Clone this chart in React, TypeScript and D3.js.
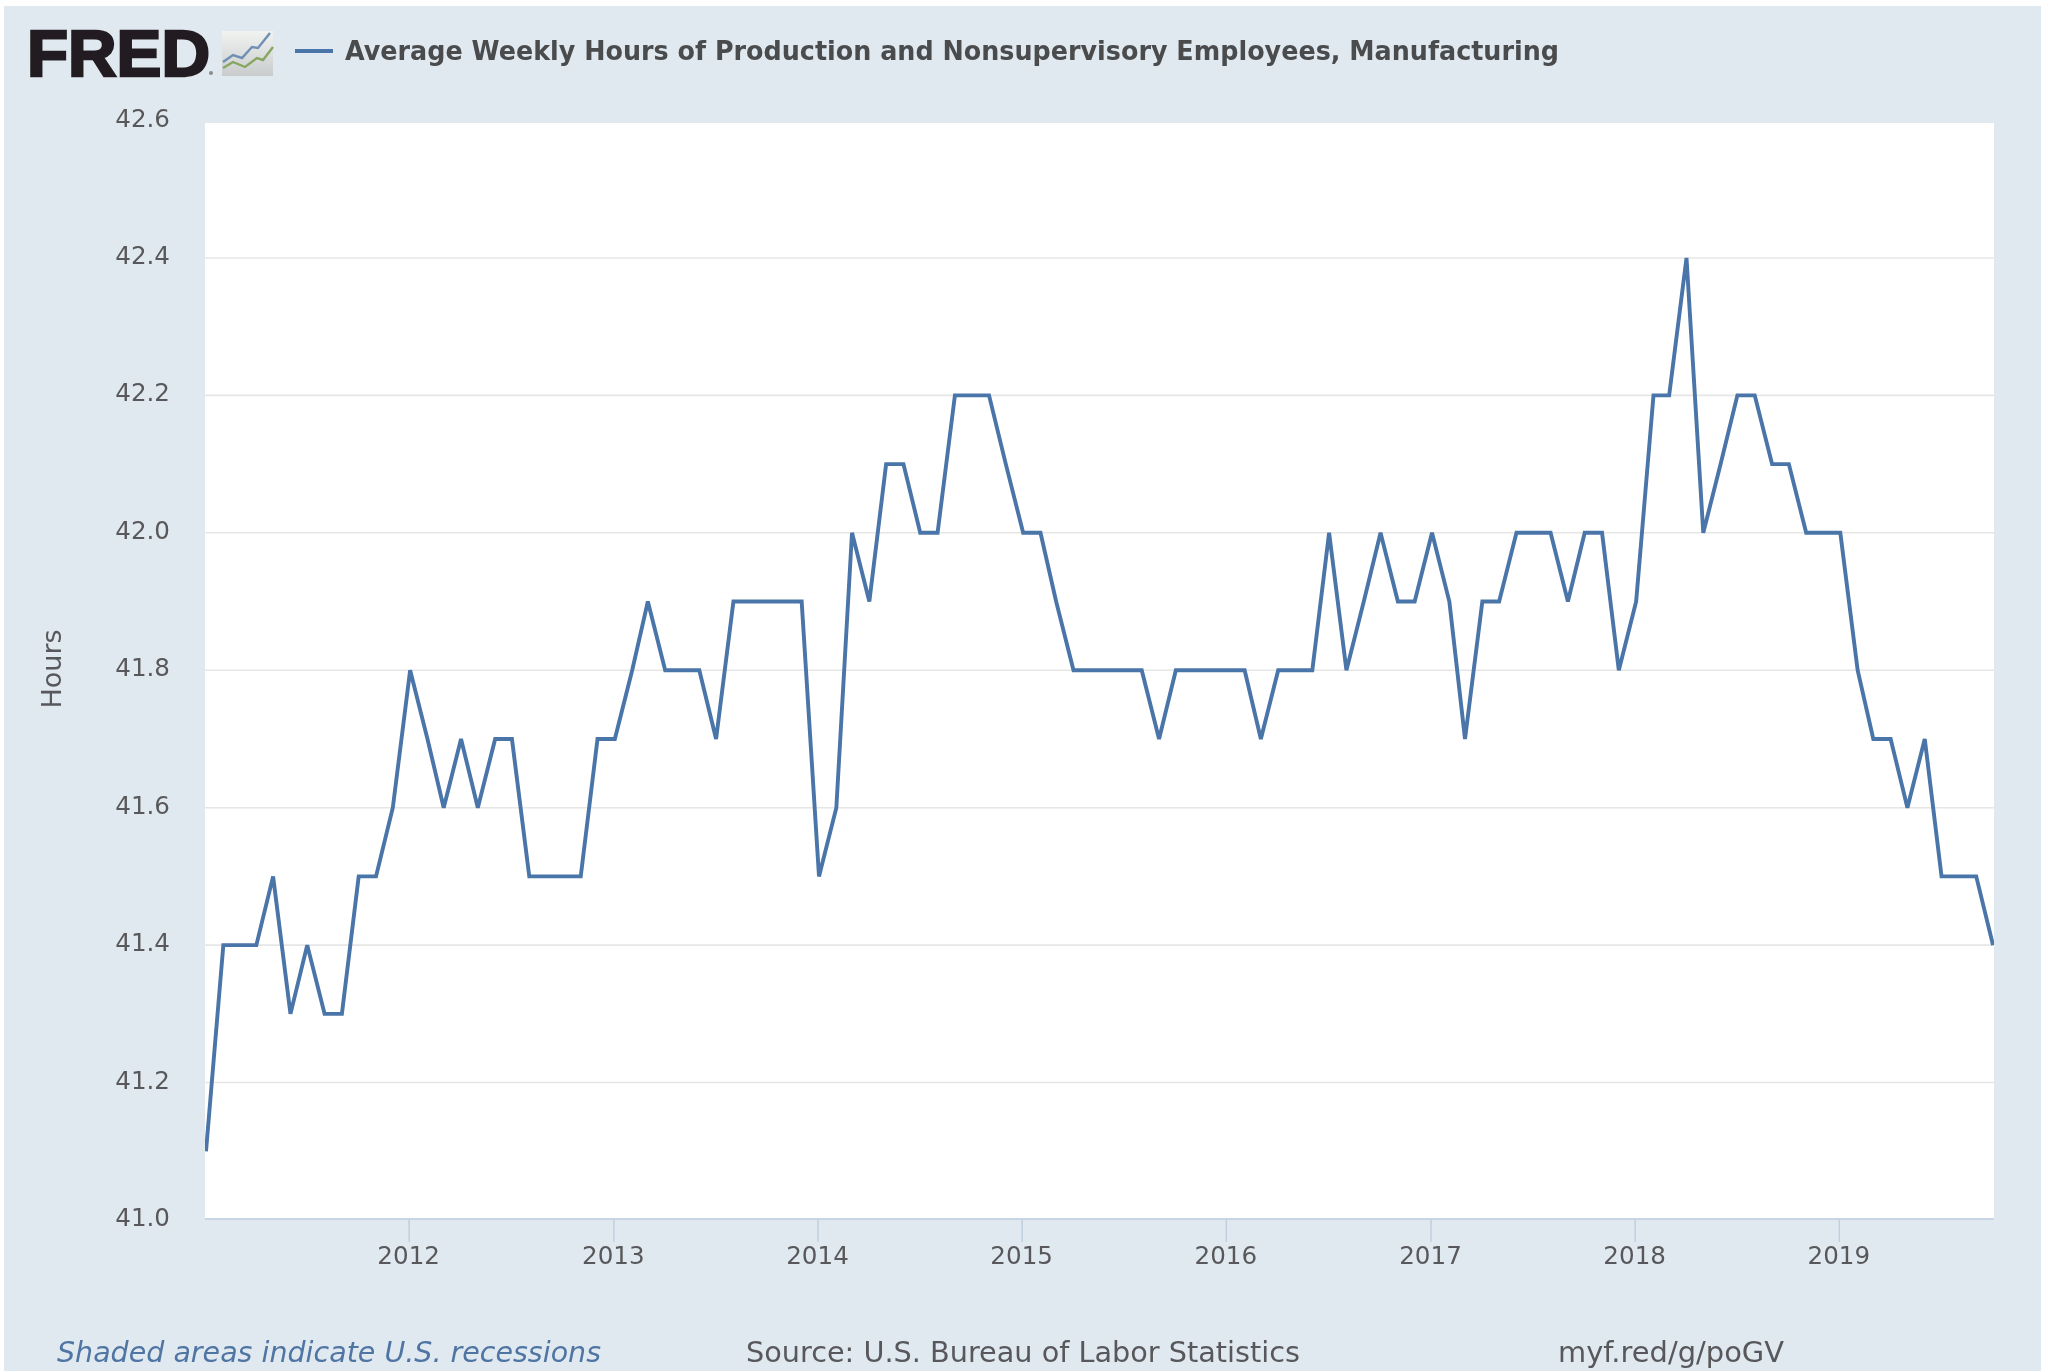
import React from "react";
import * as d3 from "d3";

const startYear = 2011;
const hours = [
  41.1, 41.4, 41.4, 41.4, 41.5, 41.3, 41.4, 41.3, 41.3, 41.5, 41.5, 41.6,
  41.8, 41.7, 41.6, 41.7, 41.6, 41.7, 41.7, 41.5, 41.5, 41.5, 41.5, 41.7,
  41.7, 41.8, 41.9, 41.8, 41.8, 41.8, 41.7, 41.9, 41.9, 41.9, 41.9, 41.9,
  41.5, 41.6, 42.0, 41.9, 42.1, 42.1, 42.0, 42.0, 42.2, 42.2, 42.2, 42.1,
  42.0, 42.0, 41.9, 41.8, 41.8, 41.8, 41.8, 41.8, 41.7, 41.8, 41.8, 41.8,
  41.8, 41.8, 41.7, 41.8, 41.8, 41.8, 42.0, 41.8, 41.9, 42.0, 41.9, 41.9,
  42.0, 41.9, 41.7, 41.9, 41.9, 42.0, 42.0, 42.0, 41.9, 42.0, 42.0, 41.8,
  41.9, 42.2, 42.2, 42.4, 42.0, 42.1, 42.2, 42.2, 42.1, 42.1, 42.0, 42.0,
  42.0, 41.8, 41.7, 41.7, 41.6, 41.7, 41.5, 41.5, 41.5, 41.4,
];
const yTicks = [41.0, 41.2, 41.4, 41.6, 41.8, 42.0, 42.2, 42.4, 42.6];
const xYears = [2012, 2013, 2014, 2015, 2016, 2017, 2018, 2019];
const titleText = "Average Weekly Hours of Production and Nonsupervisory Employees, Manufacturing";
const yAxisLabel = "Hours";
const recessionNote = "Shaded areas indicate U.S. recessions";
const sourceNote = "Source: U.S. Bureau of Labor Statistics";
const linkNote = "myf.red/g/poGV";

const W = 2049;
const H = 1371;
const plot = { left: 205, right: 1994, top: 123, bottom: 1219 };
const font = "'DejaVu Sans', sans-serif";
const textColor = "#58595b";

const dates = hours.map((_, i) => new Date(startYear, i, 1));

export default function App() {
  const x = d3
    .scaleTime()
    .domain([dates[0], dates[dates.length - 1]])
    .range([206, 1993]);
  const y = d3.scaleLinear().domain([41, 42.6]).range([1220, 120.5]);
  const line = d3
    .line<number>()
    .x((_, i) => x(dates[i]))
    .y((d) => y(d))
    .curve(d3.curveLinear);

  return (
    <svg
      width={W}
      height={H}
      viewBox={`0 0 ${W} ${H}`}
      style={{ position: "absolute", left: 0, top: 0, display: "block" }}
    >
      <defs>
        <filter id="soft" x="-5%" y="-5%" width="110%" height="110%">
          <feGaussianBlur stdDeviation="0.7" />
        </filter>
        <clipPath id="plotClip">
          <rect x={plot.left} y={plot.top} width={plot.right - plot.left} height={plot.bottom - plot.top} />
        </clipPath>
        <linearGradient id="iconBg" x1="0" y1="0" x2="0" y2="1">
          <stop offset="0" stopColor="#f1f3f1" />
          <stop offset="1" stopColor="#c9cccc" />
        </linearGradient>
      </defs>
      <rect x={0} y={0} width={W} height={H} fill="#ffffff" />
      <rect x={4} y={6} width={2037} height={H - 6} fill="#e1e9f0" />

      <g filter="url(#soft)">
        <rect
          x={plot.left}
          y={plot.top}
          width={plot.right - plot.left}
          height={plot.bottom - plot.top}
          fill="#ffffff"
        />
        {yTicks.slice(1, -1).map((t) => (
          <line key={t} x1={plot.left} x2={plot.right} y1={y(t)} y2={y(t)} stroke="#e6e6e6" strokeWidth={1.6} />
        ))}
        <line x1={plot.left} x2={plot.right} y1={plot.bottom} y2={plot.bottom} stroke="#c8d5e6" strokeWidth={2} />
        {xYears.map((yr) => {
          const px = x(new Date(yr, 0, 1)) - 1;
          return <line key={yr} x1={px} x2={px} y1={plot.bottom} y2={plot.bottom + 23} stroke="#c0d0e0" strokeWidth={1.5} />;
        })}
        <path
          d={line(hours) ?? ""}
          fill="none"
          stroke="#4a74a8"
          strokeWidth={3.9}
          strokeLinejoin="miter"
          clipPath="url(#plotClip)"
        />

        {yTicks.map((t) => (
          <text key={t} x={170} y={y(t) - 2.5} fontFamily={font} fontSize={24.6} fill={textColor} textAnchor="end" dominantBaseline="central">
            {t.toFixed(1)}
          </text>
        ))}
        {xYears.map((yr) => (
          <text key={yr} x={x(new Date(yr, 0, 1)) - 1.5} y={1264} fontFamily={font} fontSize={24.6} fill={textColor} textAnchor="middle">
            {yr}
          </text>
        ))}
        <text
          transform="translate(61,669) rotate(-90)"
          fontFamily={font}
          fontSize={27}
          fill={textColor}
          textAnchor="middle"
        >
          {yAxisLabel}
        </text>

        {/* logo */}
        <text x={27} y={76} fontFamily="'Liberation Sans', sans-serif" fontWeight={700} fontSize={65} fill="#231f20" stroke="#231f20" strokeWidth={2.5} textLength={183} lengthAdjust="spacingAndGlyphs">
          FRED
        </text>
        <circle cx={211} cy={73} r={2} fill="#8a8c8e" />
        <rect x={222} y={31} width={51} height={45} fill="url(#iconBg)" />
        <path d="M223 62 L233 55 L242 58 L252 47 L258 48 L270 33" fill="none" stroke="#6f8fb5" strokeWidth={2.4} />
        <path d="M223 68 L233 62 L245 67 L257 58 L263 60 L273 47" fill="none" stroke="#86a662" strokeWidth={2.4} />

        <line x1={295} x2={333} y1={51} y2={51} stroke="#4a74a8" strokeWidth={3.9} />
        <text x={345} y={60} fontFamily={font} fontWeight={700} fontSize={27} fill="#4a4c4e" textLength={1214} lengthAdjust="spacingAndGlyphs">
          {titleText}
        </text>

        <text x={57} y={1362} fontFamily={font} fontStyle="italic" fontSize={28} fill="#4f74a3" textLength={544} lengthAdjust="spacingAndGlyphs">
          {recessionNote}
        </text>
        <text x={746} y={1362} fontFamily={font} fontSize={28} fill={textColor} textLength={554} lengthAdjust="spacingAndGlyphs">
          {sourceNote}
        </text>
        <text x={1558} y={1362} fontFamily={font} fontSize={28} fill={textColor} textLength={226} lengthAdjust="spacingAndGlyphs">
          {linkNote}
        </text>
      </g>
    </svg>
  );
}
